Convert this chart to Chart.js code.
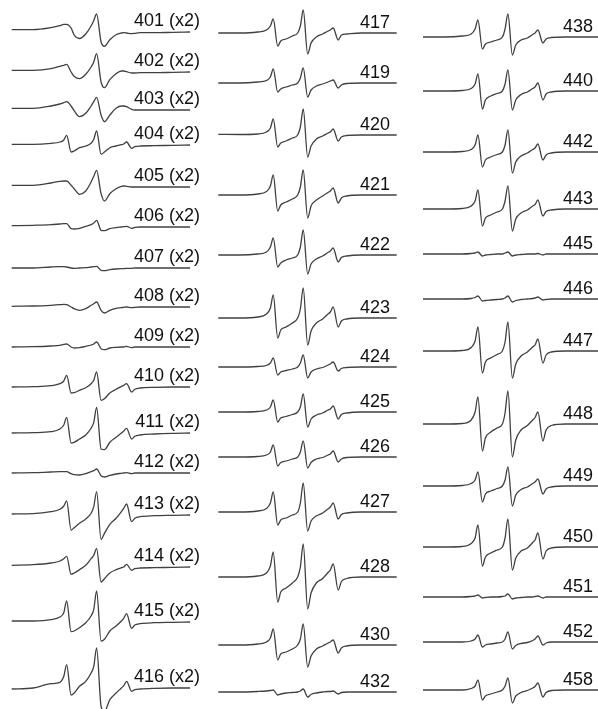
<!DOCTYPE html>
<html>
<head>
<meta charset="utf-8">
<script src="https://cdn.jsdelivr.net/npm/chart.js@4.4.1/dist/chart.umd.min.js"></script>
<style>
  body { margin: 0; background: #fff; }
  canvas { position: absolute; top: 0; }
</style>
</head>
<body>
<canvas id="c1" style="left:0px" width="205" height="709"></canvas>
<canvas id="c2" style="left:205px" width="205" height="709"></canvas>
<canvas id="c3" style="left:410px" width="188" height="709"></canvas>
<script>
// field sweep (G, relative), shared by every spectrum
const field = [0, 12, 22, 27, 29.2, 30.8, 33.3, 35, 38, 41.5, 44.5, 46, 47.6, 50.1, 52, 55, 58.5, 61.5, 62.8, 64.4, 67.2, 69, 72, 80, 90, 100];

// column 1
const col1Names = ['401 (x2)', '402 (x2)', '403 (x2)', '404 (x2)', '405 (x2)', '406 (x2)', '407 (x2)', '408 (x2)',
  '409 (x2)', '410 (x2)', '411 (x2)', '412 (x2)', '413 (x2)', '414 (x2)', '415 (x2)', '416 (x2)'];
const col1Spectra = [
  [2.3, 2.3, 4.3, 6.3, 7.7, 7.7, 4, -3, -6.5, -2, 6, 11.5, 18, -10, -14.3, -7.7, -2.7, -1, -0.7, -1, -1.7, -1.3, -0.7, -0.7, -0.3, 0],
  [1.7, 1.7, 3.3, 5.7, 6.7, 7.7, 0, -4.3, -6.7, -2.3, 5, 10, 18.3, -10, -15.7, -7.7, -1.7, 1, 1, 0.3, -1, -1, -0.7, -0.7, -0.3, 0],
  [1.7, 1.7, 4, 6, 7.3, 8.3, 4, -0.7, -6.7, -3.3, 4, 8.3, 12.7, -5, -11.7, -5, 1.7, 4, 4, 3.3, 0.7, 0, 0, 0, 0, 0],
  [0.7, 0.7, 1.7, 3, 5, 9.7, -7, -6, -2.7, -1, 1.7, 5.7, 14, -9.3, -7, -2.7, -1, 0.3, 1, 3, -3.3, -1.7, -1, -0.7, -0.3, 0],
  [1.7, 1.7, 4, 5.7, 6, 6, 1.7, -1.7, -7.3, -4, 5, 10.7, 16.7, -6.7, -14, -6.7, -1.7, 0.7, 1, 0.7, 0, 0, 0, 0, 0, 0],
  [1.3, 1.7, 2.3, 3, 3.3, 3.3, -1.7, -2, -1.3, 0.7, 2.3, 4, 6.7, -3.3, -3.7, -1.7, -0.7, 0, 0.3, 0.7, -1.3, -0.3, 0, 0, 0, 0],
  [0, 0, 1, 1.3, 1.3, 1, 0, -0.3, 0, 0.3, 1, 1.3, 1.7, -2.3, -2.7, -1.7, -1, -0.7, -0.7, -0.3, -0.3, 0, 0, 0, 0, 0],
  [0.7, 1, 1.7, 2.3, 2.7, 2.3, 0, -1.7, -3.3, -1.7, 1.7, 3.3, 5, -3.3, -6, -3.3, -1.3, -0.7, -0.3, 0, -0.7, -0.3, 0, 0, 0, 0],
  [0, 0.3, 1, 1.7, 2.7, 3, 0, -1, -0.7, 0.7, 2, 3, 5, -1.7, -2.7, -1, -0.3, 0, 0, 0.7, -0.7, 0, 0, 0, 0, 0],
  [0, 0.3, 1.3, 3.3, 6, 11.7, -6, -5.7, -3.3, -0.7, 3.3, 6.7, 15, -13.3, -11.7, -6, -2.3, 0.7, 1.7, 3.3, -5, -2.3, -1, -0.3, 0, 0],
  [0, 0.3, 1.3, 4, 8, 15.7, -10, -9.3, -6, -2, 4.7, 10.7, 25.7, -16, -16.7, -9.3, -4.3, 0, 2, 4.7, -6, -3.3, -2, -1, -0.3, 0],
  [0, 0.3, 1, 1.3, 1.3, 1.3, -0.7, -1.7, -2, -0.7, 1.3, 2.3, 4, -2.7, -4, -2.3, -1, -0.3, 0, 0.3, -0.7, 0, 0, 0, 0, 0],
  [1, 1.3, 3.3, 5.7, 9, 14, -15, -12.7, -8.3, -4, 1.7, 8.3, 23.3, -24.3, -18.3, -9.3, -3.3, 3.3, 6.7, 11, -6.7, -3.3, -1.7, -0.7, -0.3, 0],
  [1.7, 2.3, 4, 6, 8.3, 10.7, -7.3, -6, -2.7, 1.7, 8.3, 11.7, 18.3, -15, -11.7, -6, -2.7, -0.7, 0, 2.7, -3.3, -1.7, -1, -0.7, -0.3, 0],
  [1, 1, 2.3, 5, 9.3, 21, -9.7, -9, -5.7, -0.7, 6, 12.7, 31, -19, -17.3, -9, -4, 1, 3.7, 8.3, -6.3, -3, -1.7, -0.7, -0.3, 0],
  [-1, 0, 4.3, 5.7, 11.7, 23.3, -7, -5, 1.7, 6.7, 15, 21.7, 40, -18.3, -23.3, -11.7, -5, 0, 2.3, 6.7, -3.3, -1.7, -1, -0.3, 0, 0]
];

// column 2
const col2Names = ['417', '419', '420', '421', '422', '423', '424', '425', '426', '427', '428', '430', '432'];
const col2Spectra = [
  [0, 0, 1, 3, 7, 14, -13, -8, -6, -3, 0, 7, 23, -21, -10, -4, -1, 2, 3, 5, -7, -2, -1, 0, 0, 0],
  [0, 0, 1, 2.5, 6, 14, -9, -6, -4, -2, 0, 5, 15, -14, -7, -3, -1, 1, 2, 3, -5, -2, -0.5, 0, 0, 0],
  [0.7, 0.5, 1, 3, 7, 16, -12, -8, -6, -3, 0, 8, 26, -22, -11, -4, -1, 2, 3, 6, -6, -2, -0.5, 0, 0, 0],
  [0, 0, 1, 3.5, 9, 20, -16, -10, -7, -4, 0, 8, 25, -23, -11, -5, -1, 2.5, 4, 7, -8, -3, -1, 0, 0, 0],
  [0, 0, 1, 3, 8, 17, -12, -8, -5, -3, 0, 8, 25, -19, -9, -4, -1, 2.5, 4, 7, -7, -2.5, -1, 0, 0, 0],
  [0, 0, 1, 4, 10, 23, -20, -12, -9, -5, 0, 9, 30, -27, -13, -5, -1, 4, 6, 11, -9, -3, -1, 0, 0, 0],
  [0, 0, 0.5, 1.5, 4, 9, -8, -5, -3.5, -2, 0, 4, 12, -11, -5, -2, -0.5, 2, 3, 5, -4, -1.5, -0.5, 0, 0, 0],
  [0, 0, 0.5, 2, 5, 12, -10, -6, -4.5, -2.5, 0, 5, 18, -15, -7, -3, -1, 2, 3, 6, -7, -2.5, -1, 0, 0, 0],
  [0, 0, 0.5, 2, 5, 12, -9, -5.5, -4, -2, 0, 5, 16, -11, -5.5, -2, -0.5, 2, 3, 6, -5, -2, -0.5, 0, 0, 0],
  [0, 0, 1, 3.5, 9, 20, -13, -8, -6, -3, 0, 9, 29, -19, -9, -4, -1, 3, 5, 9, -7, -2.5, -1, 0, 0, 0],
  [0, 0, 1, 4, 11, 25, -25, -15, -11, -6, 0, 10, 33, -32, -16, -6, -1.5, 4.5, 7, 13, -13, -4.5, -1.5, 0, 0, 0],
  [0, 0, 1, 3, 7, 16, -15, -9, -7, -4, 0, 6, 21, -22, -11, -4, -1, 2, 3, 5, -8, -3, -1, 0, 0, 0],
  [0, 0, 0.5, 1, 1.5, 2, -3, -2, -1, -0.5, 0, 1, 3, -5, -2.5, -1, 0, 0.5, 0.5, 1, -2, -0.5, 0, 0, 0, 0]
];

// column 3
const col3Names = ['438', '440', '442', '443', '445', '446', '447', '448', '449', '450', '451', '452', '458'];
const col3Spectra = [
  [0, 0, 1, 3, 8, 17, -12, -7, -5, -3, 0, 8, 23, -18, -8, -3, -1, 2.5, 4, 7, -6, -2, -0.5, 0, 0, 0],
  [0, 0, 0.5, 2.5, 7, 17, -18, -9, -5, -2.5, 0, 7, 21, -19, -9, -3.5, -1, 2.5, 4, 8, -9, -3, -1, 0, 0, 0],
  [0, 0, 0.5, 2.5, 7, 17, -15, -8, -5, -2.5, 0, 7, 22, -21, -10, -4, -1, 2.5, 4, 8, -8, -3, -1, 0, 0, 0],
  [0, 0, 0.5, 3, 8, 19, -17, -9, -6, -3, 0, 8, 23, -22, -10, -4, -1, 3, 4.5, 9, -7, -2.5, -1, 0, 0, 0],
  [0, 0, 0, 0.5, 1, 2, -2, -1, -0.5, 0, 0, 1, 2, -2, -1, -0.5, 0, 0, 0, 0.5, -1, 0, 0, 0, 0, 0],
  [0, 0, 0, 0.5, 1.5, 3, -2, -1.5, -1, -0.5, 0, 1, 3, -3, -1.5, -0.5, 0, 0.5, 1, 2, -1, -0.5, 0, 0, 0, 0],
  [0, 0, 0.5, 3.5, 10, 24, -22, -11, -7, -3.5, 0, 9, 29, -27, -13, -5, -1, 4, 6, 12, -12, -4, -1, 0, 0, 0],
  [0, 0, 0.5, 4, 12, 27, -27, -14, -8, -4, 0, 11, 33, -33, -16, -6, -1.5, 4, 6.5, 12, -17, -6, -1.5, 0, 0, 0],
  [0, 0, 0.5, 2.5, 6, 14, -16, -8, -5, -2.5, 0, 6, 19, -20, -9, -3.5, -1, 2.5, 4, 7, -8, -3, -1, 0, 0, 0],
  [0, 0, 0.5, 3.5, 9, 22, -19, -10, -6, -3, 0, 9, 28, -23, -11, -4, -1, 4.5, 7, 14, -12, -4, -1, 0, 0, 0],
  [0, 0, 0, 0.5, 1, 2, -1, -0.5, 0, 0, 0.5, 1, 3, -2, -1, -0.5, 0, 0, 0.5, 1, -1, 0, 0, 0, 0, 0],
  [0, 0, 0, 1, 3, 7, -5, -3, -2, -1, 0, 3, 10, -7, -3.5, -1.5, -0.5, 1.5, 3, 6, -3, -1, 0, 0, 0, 0],
  [0, 0, 0, 1.5, 4, 10, -10, -6, -4, -2, 0, 4, 12, -13, -6, -2.5, -0.5, 2, 3.5, 7, -7, -2.5, -0.5, 0, 0, 0]
];

// layout: baseline of each trace, px from the top
const col1Base = [32, 72, 110, 145, 187, 227, 268, 307, 347, 387, 433, 473, 515, 567, 622, 688];
const col2Base = [33, 83, 135, 195, 255, 318, 367, 412, 457, 512, 577, 645, 692];
const col3Base = [37, 91, 152, 209, 254, 299, 351, 424, 486, 547, 597, 642, 690];

const PX_PER_G = 1.784;
const H = 709;

const columns = [
  { id: 'c1', left: 0, width: 205, start: 11.7, labelX: 200, lift: 6, names: col1Names, spectra: col1Spectra, base: col1Base },
  { id: 'c2', left: 205, width: 205, start: 218.3, labelX: 390, lift: 5, names: col2Names, spectra: col2Spectra, base: col2Base },
  { id: 'c3', left: 410, width: 188, start: 423, labelX: 593, lift: 5, names: col3Names, spectra: col3Spectra, base: col3Base }
];

const labelPlugin = (col) => ({
  id: 'traceLabels',
  afterDatasetsDraw(chart) {
    const { ctx, scales: { y } } = chart;
    ctx.save();
    ctx.font = '18px "Liberation Sans", Arial, sans-serif';
    ctx.fillStyle = '#111';
    ctx.textAlign = 'right';
    ctx.textBaseline = 'alphabetic';
    col.names.forEach((name, i) => {
      ctx.fillText(name, col.labelX - col.left, y.getPixelForValue(-col.base[i] + col.lift));
    });
    ctx.restore();
  }
});

columns.forEach((col) => {
  const ctx = document.getElementById(col.id).getContext('2d');
  const xMin = -(col.start - col.left) / PX_PER_G;

  const datasets = col.spectra.map((ys, i) => ({
    label: col.names[i],
    data: field.map((x, k) => ({ x: x, y: ys[k] - col.base[i] })),
    borderColor: '#404040',
    borderWidth: 1.3,
    pointRadius: 0,
    fill: false,
    cubicInterpolationMode: 'monotone'
  }));

  new Chart(ctx, {
    type: 'line',
    data: { datasets: datasets },
    options: {
      responsive: false,
      animation: false,
      devicePixelRatio: 1,
      layout: { padding: 0 },
      plugins: { legend: { display: false }, tooltip: { enabled: false } },
      scales: {
        x: { type: 'linear', display: false, min: xMin, max: xMin + col.width / PX_PER_G },
        y: { type: 'linear', display: false, min: -H, max: 0 }
      }
    },
    plugins: [labelPlugin(col)]
  });
});
</script>
</body>
</html>
